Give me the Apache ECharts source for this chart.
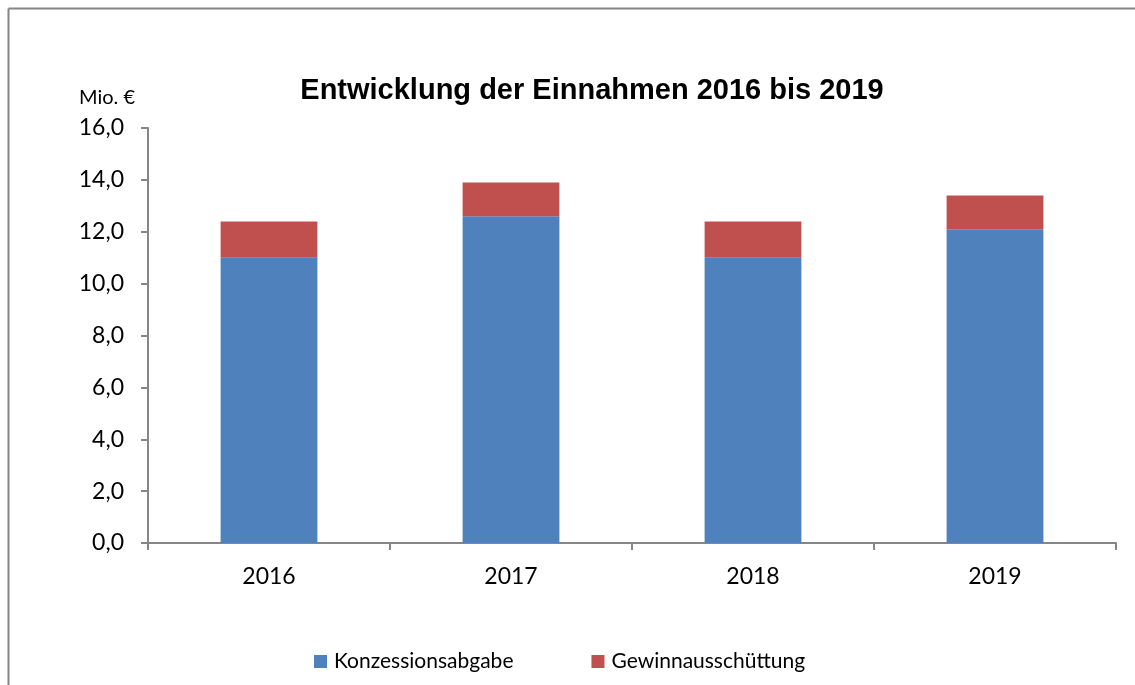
<!DOCTYPE html>
<html>
<head>
<meta charset="utf-8">
<script src="https://cdn.jsdelivr.net/npm/echarts@6/dist/echarts.min.js"></script>
<style>
html,body{margin:0;padding:0;background:#fff;}
#chart{width:1135px;height:685px;}
</style>
</head>
<body>
<div id="chart"></div>
<script>
const categories = ['2016', '2017', '2018', '2019'];
const konzessionsabgabe = [11.0, 12.6, 11.0, 12.1];
const gewinnausschuettung = [1.4, 1.3, 1.4, 1.3];
const seriesNames = ['Konzessionsabgabe', 'Gewinnausschüttung'];

const chart = echarts.init(document.getElementById('chart'));
const labelFont = 'Lato, "Open Sans", sans-serif';
chart.setOption({
  animation: false,
  backgroundColor: '#fff',
  title: {
    text: 'Entwicklung der Einnahmen 2016 bis 2019',
    left: 587, top: 71, textAlign: 'center',
    textStyle: { fontFamily: '"Liberation Sans", Arial, sans-serif', fontWeight: 'bold', fontSize: 29, color: '#000' }
  },
  graphic: [
    { type: 'line', shape: { x1: 8.5, y1: 8.5, x2: 1135, y2: 8.5 }, style: { stroke: '#868686', lineWidth: 2 } },
    { type: 'line', shape: { x1: 8.5, y1: 8.5, x2: 8.5, y2: 685 }, style: { stroke: '#868686', lineWidth: 2 } },
    { type: 'text', left: 79, top: 88, style: { text: 'Mio. €', font: '20px ' + labelFont, fill: '#000' } }
  ],
  legend: {
    data: seriesNames,
    left: 309, top: 646,
    itemWidth: 13, itemHeight: 13, itemGap: 78,
    icon: 'rect',
    textStyle: { fontFamily: labelFont, fontSize: 21, color: '#000', padding: [0, 0, 0, 2] }
  },
  grid: { left: 148, right: 19, top: 128, bottom: 142 },
  xAxis: {
    type: 'category',
    data: categories,
    axisLine: { lineStyle: { color: '#868686', width: 2 } },
    axisTick: { show: true, length: 7, lineStyle: { color: '#868686', width: 2 } },
    axisLabel: { fontFamily: labelFont, fontSize: 23, color: '#000', margin: 22 }
  },
  yAxis: {
    type: 'value', min: 0, max: 16, interval: 2,
    axisLine: { show: true, lineStyle: { color: '#868686', width: 2 } },
    axisTick: { show: true, length: 7, lineStyle: { color: '#868686', width: 2 } },
    splitLine: { show: false },
    axisLabel: { fontFamily: labelFont, fontSize: 23, color: '#000', margin: 24,
      formatter: v => v.toFixed(1).replace('.', ',') }
  },
  series: [
    { name: seriesNames[0], type: 'bar', stack: 'a', data: konzessionsabgabe, barWidth: '40%', itemStyle: { color: '#4F81BD' } },
    { name: seriesNames[1], type: 'bar', stack: 'a', data: gewinnausschuettung, barWidth: '40%', itemStyle: { color: '#C0504D' } }
  ]
});
</script>
</body>
</html>
